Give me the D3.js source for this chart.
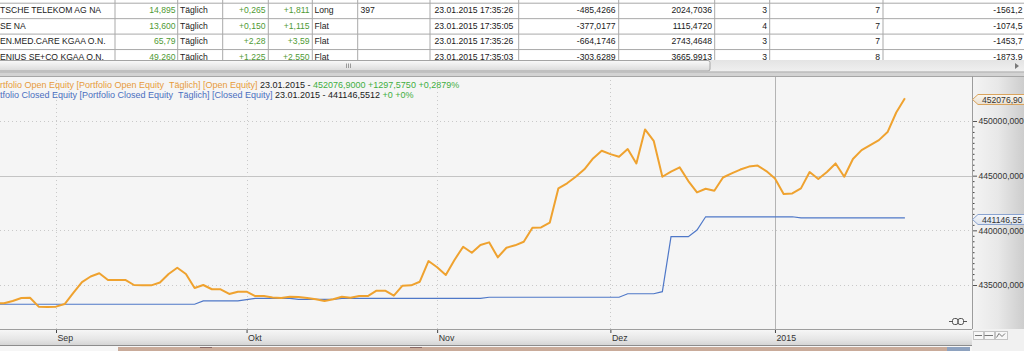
<!DOCTYPE html>
<html><head><meta charset="utf-8">
<script src="https://cdn.jsdelivr.net/npm/d3@7"></script>
<style>
body{margin:0;background:#fff;overflow:hidden}
svg{display:block;font-family:"Liberation Sans",Arial,sans-serif}
</style>
</head><body>
<svg id="c" width="1024" height="351"></svg>
<script>
// ---------------- DATA ----------------
// trading-day index of the first value (index 0 = 1 Sep 2014)
const firstIndex = -7;
// Portfolio Open Equity, daily (23 Aug 2014 .. 23 Jan 2015)
const openEquity = [
 433310,433330,433540,433810,433840,433020,432990,
 433020,433260,434270,435270,435780,436070,435460,435460,435460,435000,
 434970,434970,435230,436010,436580,436010,434730,435000,434610,434610,
 434180,434390,434390,433990,433990,433860,433810,433930,433900,433810,
 433690,433540,433690,433930,433840,433990,433990,434480,434480,434020,
 434940,434970,435300,437190,436620,435910,437290,438500,437950,438660,
 438900,437530,438410,438630,438960,440240,440270,440700,443840,444300,
 444900,445580,446580,447280,446970,446730,447430,446120,449230,448190,
 444900,445360,445760,444510,443470,443800,443620,444830,445210,445560,
 445830,445920,445420,444750,443320,443380,443840,445330,444690,445330,
 446120,444900,446520,447340,447800,448250,448990,450780,452076.9
];
// Portfolio Closed Equity, daily
const closedEquity = [
 433240,433240,433240,433240,433240,433240,433240,
 433240,433240,433240,433240,433240,433240,433240,433240,433240,433240,
 433240,433240,433240,433240,433240,433240,433240,433540,433540,433540,
 433540,433540,433670,433770,433770,433770,433770,433770,433690,433690,
 433690,433690,433690,433780,433780,433780,433780,433780,433780,433780,
 433780,433780,433780,433780,433780,433780,433780,433780,433780,433780,
 433880,433880,433880,433880,433880,433880,433880,433880,433880,433880,
 433880,433880,433880,433880,433880,433880,434200,434200,434200,434200,
 434390,439420,439420,439420,440030,441240,441240,441240,441240,441240,
 441240,441240,441240,441240,441240,441240,441146.55,441146.55,441146.55,441146.55,
 441146.55,441146.55,441146.55,441146.55,441146.55,441146.55,441146.55,441146.55,441146.55
];
const monthTickIndex = [0, 22, 44, 64, 83];
const monthTickLabels = ["Sep", "Okt", "Nov", "Dez", "2015"];
const yTickValues = [435000, 440000, 445000, 450000];
const referenceLevel = 445000;
const lastOpenLabel = "452076,90";
const lastClosedLabel = "441146,55";
// visible part of the legend lines (the window is scrolled, so their start is hidden)
const legendOpen = ["rtfolio Open Equity [Portfolio Open Equity  Täglich] [Open Equity] ", "23.01.2015 - ", "452076,9000 +1297,5750 +0,2879%"];
const legendClosed = ["tfolio Closed Equity [Portfolio Closed Equity  Täglich] [Closed Equity] ", "23.01.2015 - 441146,5512 ", "+0 +0%"];
const tableRows = [
 ["TSCHE TELEKOM AG NA","14,895","Täglich","+0,265","+1,811","Long","397","23.01.2015 17:35:26","-485,4266","2024,7036","3","7","-1561,2"],
 ["SE NA","13,600","Täglich","+0,150","+1,115","Flat","","23.01.2015 17:35:05","-377,0177","1115,4720","4","7","-1074,5"],
 ["EN.MED.CARE KGAA O.N.","65,79","Täglich","+2,28","+3,59","Flat","","23.01.2015 17:35:26","-664,1746","2743,4648","3","7","-1453,7"],
 ["ENIUS SE+CO KGAA O.N.","49,260","Täglich","+1,225","+2,550","Flat","","23.01.2015 17:35:03","-303,6289","3665,9913","3","8","-1873,9"]
];

// ---------------- DRAW ----------------
const svg = d3.select("#c");
const P = {left:0, right:972, top:76, bottom:329};
const defs = svg.append("defs");
function lg(id, stops, horiz){
  const g = defs.append("linearGradient").attr("id", id)
    .attr("x1",0).attr("y1",0).attr("x2",horiz?1:0).attr("y2",horiz?0:1);
  stops.forEach(([o,c]) => g.append("stop").attr("offset",o).attr("stop-color",c));
}
lg("gThumb", [[0,"#fafafa"],[1,"#dadada"]]);
lg("gTrack", [[0,"#e4e4e4"],[1,"#f0f0f0"]]);
lg("gAxis", [[0,"#f8f8f8"],[0.6,"#e6e6e6"],[1,"#d2d2d2"]]);
lg("gRight", [[0,"#f4f4f4"],[0.5,"#e8e8e8"],[1,"#cdcdcd"]], true);
lg("gOpenBox", [[0,"#fbf7f0"],[1,"#e9dfcf"]]);
lg("gClosedBox", [[0,"#f5f7fb"],[1,"#dce3ee"]]);
defs.append("clipPath").attr("id","clipPlot").append("rect")
  .attr("x",P.left).attr("y",P.top).attr("width",P.right-P.left).attr("height",P.bottom-P.top);
defs.append("clipPath").attr("id","clipTable").append("rect")
  .attr("x",0).attr("y",0).attr("width",1024).attr("height",60);

// ---- table ----
const table = svg.append("g").attr("clip-path","url(#clipTable)");
table.append("rect").attr("x",0).attr("y",0).attr("width",1024).attr("height",60).attr("fill","#fff");
const colLines = [115, 177.7, 222.7, 268.3, 312.3, 357.7, 430, 518.7, 618.7, 714.7, 769.7, 883];
const cols = [
 {x:0,a:"start"},{x:175.5,a:"end",g:1},{x:180,a:"start"},{x:265.6,a:"end",g:1},{x:309.6,a:"end",g:1},
 {x:314.5,a:"start"},{x:360.5,a:"start"},{x:434.5,a:"start"},{x:615.5,a:"end"},{x:712,a:"end"},
 {x:767,a:"end"},{x:880,a:"end"},{x:1022.5,a:"end"}
];
const rowTop = i => 2.7 + 15.45*i;
[0,1,2,3,4].forEach(i => table.append("line").attr("x1",0).attr("x2",1024)
  .attr("y1",rowTop(i)+0.5).attr("y2",rowTop(i)+0.5).attr("stroke","#a9a9a9").attr("stroke-width",1));
colLines.forEach(x => table.append("line").attr("x1",x).attr("x2",x).attr("y1",0).attr("y2",60)
  .attr("stroke","#a9a9a9").attr("stroke-width",1));
tableRows.forEach((row,i) => {
  row.forEach((t,j) => {
    table.append("text").attr("x",cols[j].x).attr("y",13.3+15.45*i)
      .attr("text-anchor",cols[j].a).attr("font-size",8.6)
      .attr("fill", cols[j].g ? "#4f9a35" : "#1a1a1a").text(t);
  });
});

// ---- scrollbar ----
svg.append("rect").attr("x",0).attr("y",60).attr("width",1024).attr("height",12).attr("fill","url(#gTrack)");
svg.append("rect").attr("x",-2).attr("y",60.5).attr("width",712).attr("height",10.5).attr("rx",2)
  .attr("fill","url(#gThumb)").attr("stroke","#a4a4a4");
[346,348,350].forEach(x => svg.append("line").attr("x1",x+0.5).attr("x2",x+0.5).attr("y1",63.5).attr("y2",68)
  .attr("stroke","#9a9a9a"));
svg.append("path").attr("d","M1015,63 L1019,66 L1015,69 Z").attr("fill","#7a7a7a");
svg.append("rect").attr("x",0).attr("y",71.5).attr("width",1024).attr("height",4.5).attr("fill","#d3d3d3");
svg.append("line").attr("x1",0).attr("x2",1024).attr("y1",72).attr("y2",72).attr("stroke","#b0b0b0");

// ---- plot background ----
svg.append("rect").attr("x",P.left).attr("y",P.top).attr("width",P.right-P.left).attr("height",P.bottom-P.top)
  .attr("fill","#f5f5f5");
svg.append("rect").attr("x",P.right).attr("y",P.top).attr("width",1024-P.right).attr("height",P.bottom-P.top)
  .attr("fill","url(#gRight)");

// scales
const x = d3.scaleLinear().domain([0, 98]).range([56, 904.9]);
const y = d3.scaleLinear().domain([435000, 450000]).range([285, 121]);

// grid
const grid = svg.append("g").attr("clip-path","url(#clipPlot)");
yTickValues.forEach(v => {
  const solid = v === referenceLevel;
  grid.append("line").attr("x1",P.left).attr("x2",P.right).attr("y1",Math.round(y(v))+0.5).attr("y2",Math.round(y(v))+0.5)
    .attr("stroke", solid ? "#c4c4c4" : "#c9c9c9").attr("stroke-width",1)
    .attr("stroke-dasharray", solid ? null : "1,3");
});
monthTickIndex.forEach((d,i) => {
  const solid = monthTickLabels[i] === "2015";
  const xx = Math.round(x(d))+0.5;
  grid.append("line").attr("x1",xx).attr("x2",xx).attr("y1",P.top).attr("y2",P.bottom)
    .attr("stroke", solid ? "#b4b4b4" : "#c9c9c9").attr("stroke-dasharray", solid ? null : "1,3");
});

// lines
const idx = (d,i) => x(firstIndex + i);
const lineGen = d3.line().x(idx).y(d => y(d));
const lines = svg.append("g").attr("clip-path","url(#clipPlot)");
lines.append("path").datum(closedEquity).attr("d", lineGen).attr("fill","none")
  .attr("stroke","#4f78c8").attr("stroke-width",1.2);
lines.append("path").datum(openEquity).attr("d", lineGen).attr("fill","none")
  .attr("stroke","#efa22f").attr("stroke-width",2).attr("stroke-linejoin","round");

// borders
svg.append("line").attr("x1",0).attr("x2",1024).attr("y1",P.top+0.5).attr("y2",P.top+0.5).attr("stroke","#a6a6a6");
svg.append("line").attr("x1",P.right+0.5).attr("x2",P.right+0.5).attr("y1",P.top).attr("y2",P.bottom).attr("stroke","#9c9c9c");

// legend
const leg = svg.append("g").attr("font-size",9.0).style("white-space","pre");
const l1 = leg.append("text").attr("x",0).attr("y",87.5).attr("xml:space","preserve");
l1.append("tspan").attr("fill","#e79b3b").text(legendOpen[0]);
l1.append("tspan").attr("fill","#1a1a1a").text(legendOpen[1]);
l1.append("tspan").attr("fill","#3fae3f").text(legendOpen[2]);
const l2 = leg.append("text").attr("x",0).attr("y",97.8).attr("xml:space","preserve");
l2.append("tspan").attr("fill","#4a6fc0").text(legendClosed[0]);
l2.append("tspan").attr("fill","#1a1a1a").text(legendClosed[1]);
l2.append("tspan").attr("fill","#3fae3f").text(legendClosed[2]);

// right axis
const fmt = v => d3.format(".3f")(v).replace(".", ",");
const yAxis = d3.axisRight(y).tickValues(yTickValues).tickFormat(fmt).tickSize(4).tickPadding(1.5);
const ya = svg.append("g").attr("transform",`translate(${P.right+1},0)`).call(yAxis);
ya.select(".domain").remove();
ya.selectAll("line").attr("stroke","#555");
ya.selectAll("text").attr("font-size",8.6).attr("fill","#333").attr("font-family","Liberation Sans, Arial, sans-serif");
const minor = y.ticks(25).filter(v => y(v) > P.top+3 && y(v) < P.bottom-3 && v % 5000 !== 0);
const ym = svg.append("g").attr("transform",`translate(${P.right+1},0)`)
  .call(d3.axisRight(y).tickValues(minor).tickFormat("").tickSize(1.5));
ym.select(".domain").remove();
ym.selectAll("line").attr("stroke","#444");

// last value markers
function marker(v, label, fillId, stroke){
  const yc = Math.round(y(v)) + 1.5;
  const g = svg.append("g");
  g.append("path").attr("d",`M${P.right+0.5},${yc} L${P.right+6},${yc-5} L1030,${yc-5} L1030,${yc+5} L${P.right+6},${yc+5} Z`)
    .attr("fill",`url(#${fillId})`).attr("stroke",stroke);
  g.append("text").attr("x",P.right+10).attr("y",yc+3.1).attr("font-size",8.6).attr("fill","#333").text(label);
}
marker(openEquity[openEquity.length-1], lastOpenLabel, "gOpenBox", "#d9a35c");
marker(closedEquity[closedEquity.length-1], lastClosedLabel, "gClosedBox", "#8aa3cf");

// link icon
const ic = svg.append("g").attr("stroke","#444").attr("fill","none").attr("stroke-width",0.9);
ic.append("path").attr("d","M949,321.5 H952.5 M963.5,321.5 H967");
ic.append("rect").attr("x",952.5).attr("y",318.5).attr("width",5.5).attr("height",6).attr("rx",2);
ic.append("rect").attr("x",958).attr("y",318.5).attr("width",5.5).attr("height",6).attr("rx",2);

// x axis band
svg.append("rect").attr("x",0).attr("y",P.bottom).attr("width",P.right).attr("height",17).attr("fill","url(#gAxis)");
svg.append("line").attr("x1",0).attr("x2",P.right).attr("y1",P.bottom+0.5).attr("y2",P.bottom+0.5).attr("stroke","#9e9e9e");
svg.append("line").attr("x1",0).attr("x2",P.right).attr("y1",345.5).attr("y2",345.5).attr("stroke","#8c8c8c");
svg.append("rect").attr("x",P.right).attr("y",P.bottom).attr("width",1024-P.right).attr("height",22).attr("fill","#f1f1f1");
const xAxis = d3.axisBottom(x).tickValues(monthTickIndex).tickFormat((d,i) => monthTickLabels[i]).tickSize(3).tickPadding(2);
const xa = svg.append("g").attr("transform",`translate(0,${P.bottom+1})`).call(xAxis);
xa.select(".domain").remove();
xa.selectAll("line").attr("stroke","#444");
xa.selectAll("text").attr("text-anchor","start").attr("dx",1).attr("font-size",8.8).attr("fill","#333")
  .attr("font-family","Liberation Sans, Arial, sans-serif");

// bottom navigator strip
svg.append("rect").attr("x",0).attr("y",346).attr("width",P.right).attr("height",5).attr("fill","#f6f6f6");
svg.append("rect").attr("x",118).attr("y",347).attr("width",829).attr("height",4).attr("fill","#c9ab9a");
svg.append("rect").attr("x",947).attr("y",347).attr("width",23).attr("height",4).attr("fill","#8ea2bf");
svg.append("rect").attr("x",200).attr("y",347).attr("width",12).attr("height",1).attr("fill","#8a6a66");
svg.append("rect").attr("x",410).attr("y",347).attr("width",12).attr("height",1).attr("fill","#8a6a66");

// bottom-right buttons
const btn = svg.append("g");
[[973,10],[984,10],[995,12]].forEach(([bx,bw]) => {
  btn.append("rect").attr("x",bx+0.5).attr("y",331.5).attr("width",bw).attr("height",8).attr("fill","#f7f7f7").attr("stroke","#c4c4c4");
});
btn.append("path").attr("d","M975,335.5 H982 M984.5,335.5 H993 M996.5,337.5 L999,333.5 L1002,336.5 L1005,333.5")
  .attr("stroke","#555").attr("fill","none").attr("stroke-width",0.8);
</script>
</body></html>
